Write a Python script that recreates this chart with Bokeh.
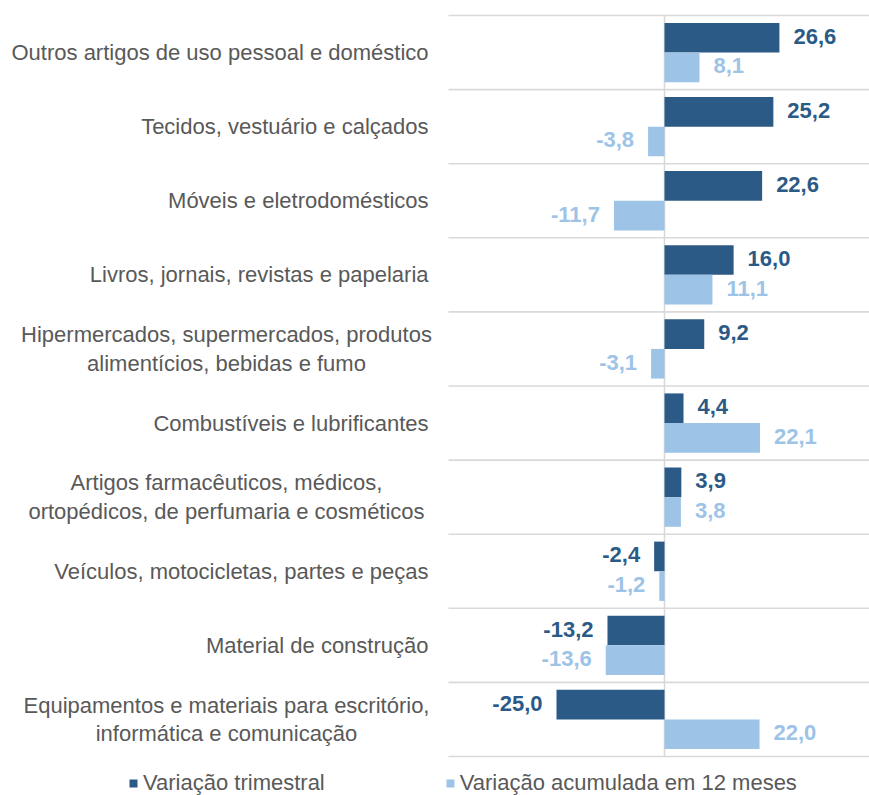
from bokeh.plotting import figure
from bokeh.models import ColumnDataSource, Range1d, Legend, LegendItem
from bokeh.core.properties import value, field
from bokeh.transform import dodge
from bokeh.embed import file_html
from bokeh.resources import INLINE

# ---------------- data ----------------
categories = [
    "Outros artigos de uso pessoal e doméstico",
    "Tecidos, vestuário e calçados",
    "Móveis e eletrodomésticos",
    "Livros, jornais, revistas e papelaria",
    "Hipermercados, supermercados, produtos\nalimentícios, bebidas e fumo",
    "Combustíveis e lubrificantes",
    "Artigos farmacêuticos, médicos,\nortopédicos, de perfumaria e cosméticos",
    "Veículos, motocicletas, partes e peças",
    "Material de construção",
    "Equipamentos e materiais para escritório,\ninformática e comunicação",
]
trimestral = [26.6, 25.2, 22.6, 16.0, 9.2, 4.4, 3.9, -2.4, -13.2, -25.0]
acumulada = [8.1, -3.8, -11.7, 11.1, -3.1, 22.1, 3.8, -1.2, -13.6, 22.0]
series_names = ["Variação trimestral", "Variação acumulada em 12 meses"]
axis_min = -50

# ---------------- style ----------------
DARK = "#2B5A86"
LIGHT = "#9DC3E6"
TEXT_GREY = "#595959"
GRID = "#D9D9D9"
FONT_NAME = "Liberation Sans"
FONT = value(FONT_NAME)
FS = "22px"

W, H = 869, 795
PX_X = 4.32          # pixels per unit on x
ZERO_PX = 664        # x pixel of value 0 inside the figure
BAND_PX = 74.1       # pixels per category band
TOP_PX = 15          # pixels above the first band

n = len(categories)
pos = [n - 1 - i for i in range(n)]

x_start = -ZERO_PX / PX_X
x_end = (W - ZERO_PX) / PX_X
y_end = (n - 0.5) + TOP_PX / BAND_PX
y_start = y_end - H / BAND_PX

def fmt(v):
    return f"{v:.1f}".replace(".", ",")

src = ColumnDataSource(dict(
    cat=categories,
    pos=pos,
    trim=trimestral,
    acum=acumulada,
    trim_label=[fmt(v) for v in trimestral],
    acum_label=[fmt(v) for v in acumulada],
    trim_align=["left" if v >= 0 else "right" for v in trimestral],
    acum_align=["left" if v >= 0 else "right" for v in acumulada],
    trim_off=[14 if v >= 0 else -14 for v in trimestral],
    acum_off=[14 if v >= 0 else -14 for v in acumulada],
))

p = figure(width=W, height=H,
           x_range=Range1d(x_start, x_end), y_range=Range1d(y_start, y_end),
           output_backend="svg", toolbar_location=None,
           x_axis_location=None, y_axis_location=None,
           min_border=0, outline_line_color=None)
p.grid.visible = False

# band separators
bounds = [k - 0.5 for k in range(n + 1)]
p.segment(x0=[axis_min] * len(bounds), x1=[x_end] * len(bounds),
          y0=bounds, y1=bounds, line_color=GRID, line_width=1.6)
# zero line
p.segment(x0=[0], x1=[0], y0=[bounds[0]], y1=[bounds[-1]],
          line_color=GRID, line_width=1.6)

r1 = p.hbar(y=dodge("pos", 0.2), left=0, right="trim", height=0.4,
            source=src, fill_color=DARK, line_color=None)
r2 = p.hbar(y=dodge("pos", -0.2), left=0, right="acum", height=0.4,
            source=src, fill_color=LIGHT, line_color=None)

# value labels
p.text(x="trim", y=dodge("pos", 0.2), text="trim_label", source=src,
       text_align=field("trim_align"), x_offset="trim_off", y_offset=-1.5,
       text_baseline="middle", text_font=FONT, text_font_size=FS,
       text_font_style="bold", text_color=DARK)
p.text(x="acum", y=dodge("pos", -0.2), text="acum_label", source=src,
       text_align=field("acum_align"), x_offset="acum_off", y_offset=-1.5,
       text_baseline="middle", text_font=FONT, text_font_size=FS,
       text_font_style="bold", text_color=LIGHT)

# category labels
single = [(c, y) for c, y in zip(categories, pos) if "\n" not in c]
multi = [(c, y) for c, y in zip(categories, pos) if "\n" in c]
p.text(x=[axis_min] * len(single), y=[y for _, y in single],
       text=[c for c, _ in single], x_offset=-20,
       text_align="right", text_baseline="middle",
       text_font=FONT, text_font_size=FS, text_color=TEXT_GREY)
p.text(x=[axis_min] * len(multi), y=[y for _, y in multi],
       text=[c for c, _ in multi], x_offset=-222,
       text_align="center", text_baseline="middle", text_line_height=1.15,
       text_font=FONT, text_font_size=FS, text_color=TEXT_GREY)

legend = Legend(items=[LegendItem(label=series_names[0], renderers=[r1]),
                       LegendItem(label=series_names[1], renderers=[r2])],
                orientation="horizontal", location=(128, -1),
                glyph_width=10, glyph_height=10, label_standoff=5,
                spacing=120, padding=0, margin=0,
                border_line_color=None, background_fill_alpha=0,
                label_text_font=FONT_NAME, label_text_font_size=FS,
                label_text_color=TEXT_GREY)
p.add_layout(legend)

open("out.html", "w").write(file_html(p, INLINE))
